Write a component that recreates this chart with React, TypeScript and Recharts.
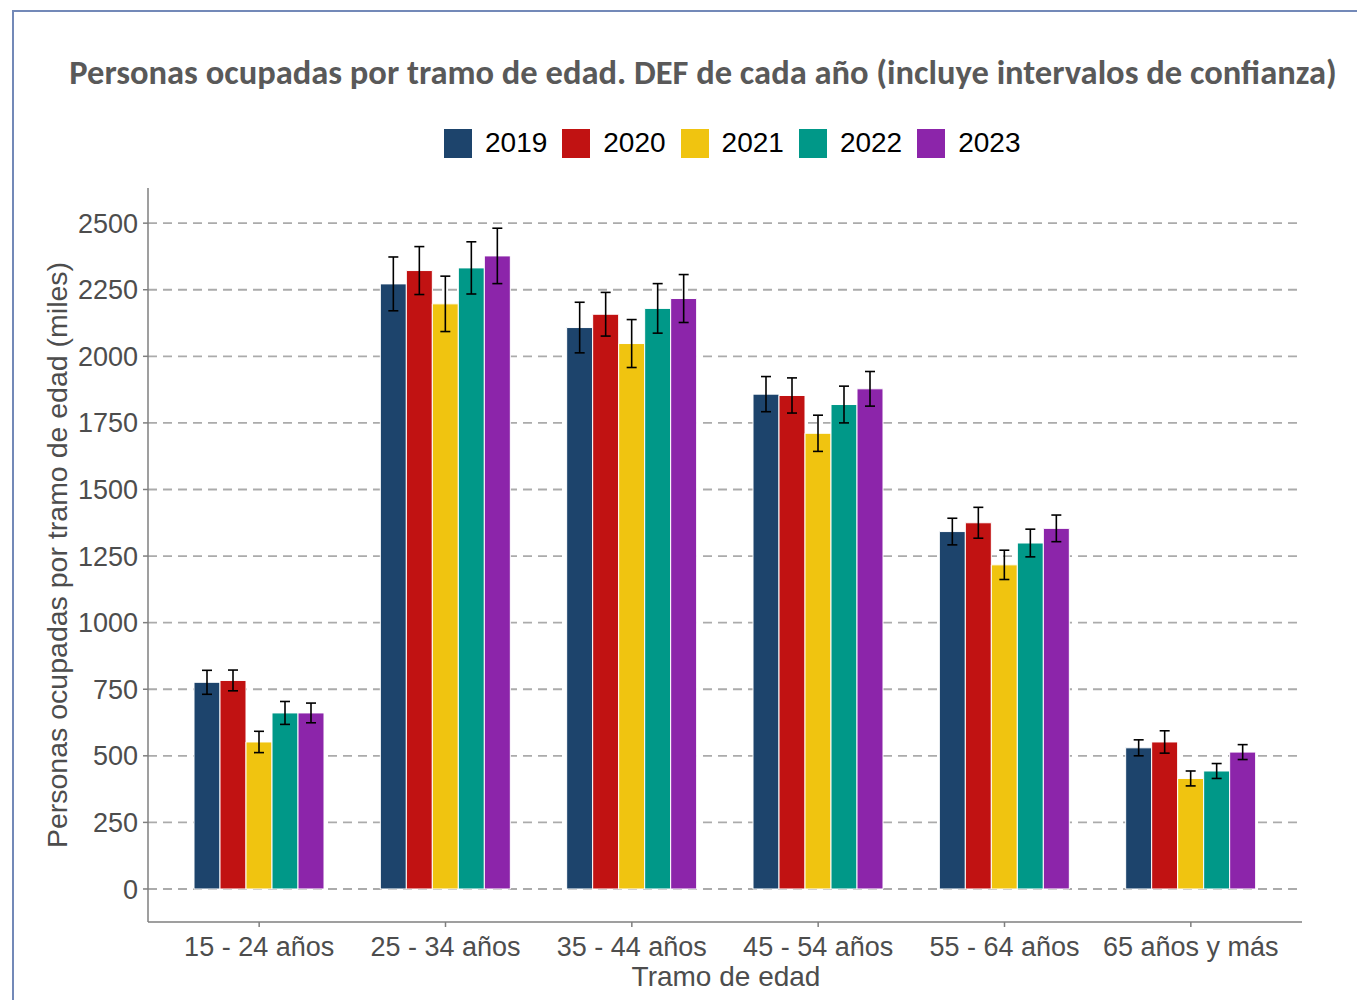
import { BarChart, Bar, XAxis, YAxis, CartesianGrid, ErrorBar } from "recharts";

const categories = ["15 - 24 años", "25 - 34 años", "35 - 44 años", "45 - 54 años", "55 - 64 años", "65 años y más"];
const years = ["2019", "2020", "2021", "2022", "2023"];
const colors = ["#1d446c", "#c11212", "#f0c410", "#009888", "#8c25aa"];

// valores en miles
const v2019 = [776, 2272, 2108, 1858, 1342, 530];
const v2020 = [783, 2322, 2158, 1853, 1375, 552];
const v2021 = [552, 2197, 2048, 1711, 1217, 415];
const v2022 = [661, 2332, 2180, 1819, 1299, 443];
const v2023 = [661, 2377, 2217, 1878, 1354, 514];

// semiamplitud del intervalo de confianza
const e2019 = [45, 101, 95, 66, 50, 30];
const e2020 = [39, 90, 82, 66, 58, 42];
const e2021 = [40, 104, 90, 68, 55, 28];
const e2022 = [43, 98, 93, 69, 52, 28];
const e2023 = [37, 104, 90, 65, 50, 28];

const yTicks = [0, 250, 500, 750, 1000, 1250, 1500, 1750, 2000, 2250, 2500];

const values = [v2019, v2020, v2021, v2022, v2023];
const errors = [e2019, e2020, e2021, e2022, e2023];

const data = categories.map((tramo, i) => {
  const row: Record<string, string | number> = { tramo };
  years.forEach((y, k) => {
    row["v" + y] = values[k][i];
    row["e" + y] = errors[k][i];
  });
  return row;
});

const font = "'Liberation Sans', Arial, sans-serif";

function LegendRow() {
  return (
    <div style={{ display: "flex", alignItems: "center", fontFamily: font, fontSize: 28, color: "#000" }}>
      {years.map((y, k) => (
        <div key={y} style={{ display: "flex", alignItems: "center", marginLeft: k ? 15 : 0 }}>
          <span style={{ display: "inline-block", width: 28, height: 29, background: colors[k], marginRight: 13 }} />
          <span>{y}</span>
        </div>
      ))}
    </div>
  );
}

export default function App() {
  return (
    <div style={{ position: "absolute", left: 0, top: 0, width: 1357, height: 1000, background: "#fff", overflow: "hidden" }}>
      <div
        style={{
          position: "absolute",
          left: 12,
          top: 10,
          width: 1360,
          height: 1000,
          borderLeft: "2px solid #7389b8",
          borderTop: "2px solid #7389b8",
        }}
      />
      <div
        style={{
          position: "absolute",
          left: 703,
          top: 72,
          transform: "translate(-50%, -50%)",
          fontFamily: "Carlito, 'Open Sans', sans-serif",
          fontWeight: 700,
          fontSize: 34.5,
          color: "#595959",
          whiteSpace: "nowrap",
        }}
      >
        Personas ocupadas por tramo de edad. DEF de cada año (incluye intervalos de confianza)
      </div>
      <div style={{ position: "absolute", left: 444, top: 127 }}>
        <LegendRow />
      </div>
      <div
        style={{
          position: "absolute",
          left: 57,
          top: 555,
          transform: "translate(-50%, -50%) rotate(-90deg)",
          fontFamily: font,
          fontSize: 28.5,
          color: "#4d4d4d",
          whiteSpace: "nowrap",
        }}
      >
        Personas ocupadas por tramo de edad (miles)
      </div>
      <div
        style={{
          position: "absolute",
          left: 726,
          top: 961,
          transform: "translateX(-50%)",
          fontFamily: font,
          fontSize: 28,
          color: "#4d4d4d",
          whiteSpace: "nowrap",
        }}
      >
        Tramo de edad
      </div>
      <div style={{ position: "absolute", left: 0, top: 0 }}>
        <BarChart
          width={1357}
          height={1000}
          data={data}
          margin={{ top: 188, right: 55, bottom: 18, left: 68 }}
          barGap={0}
          barCategoryGap={28}
        >
          <CartesianGrid
            vertical={false}
            horizontalValues={yTicks}
            stroke="#ababab"
            strokeWidth={1.8}
            strokeDasharray="9 6"
          />
          <XAxis
            dataKey="tramo"
            height={60}
            padding={{ left: 18, right: 18 }}
            tickSize={5}
            tickMargin={10}
            axisLine={{ stroke: "#7f7f7f", strokeWidth: 1.5 }}
            tickLine={{ stroke: "#7f7f7f", strokeWidth: 1.5 }}
            tick={{ fill: "#4d4d4d", fontSize: 27, fontFamily: font }}
            interval={0}
          />
          <YAxis
            width={80}
            domain={[-124, 2632]}
            ticks={yTicks}
            allowDataOverflow
            tickSize={5}
            tickMargin={5}
            axisLine={{ stroke: "#7f7f7f", strokeWidth: 1.5 }}
            tickLine={{ stroke: "#7f7f7f", strokeWidth: 1.5 }}
            tick={{ fill: "#4d4d4d", fontSize: 27, fontFamily: font }}
          />
          {years.map((y, k) => (
            <Bar key={y} dataKey={"v" + y} name={y} fill={colors[k]} stroke="#ffffff" strokeWidth={1} isAnimationActive={false}>
              <ErrorBar dataKey={"e" + y} width={5} stroke="#000" strokeWidth={1.6} direction="y" />
            </Bar>
          ))}
        </BarChart>
      </div>
    </div>
  );
}
